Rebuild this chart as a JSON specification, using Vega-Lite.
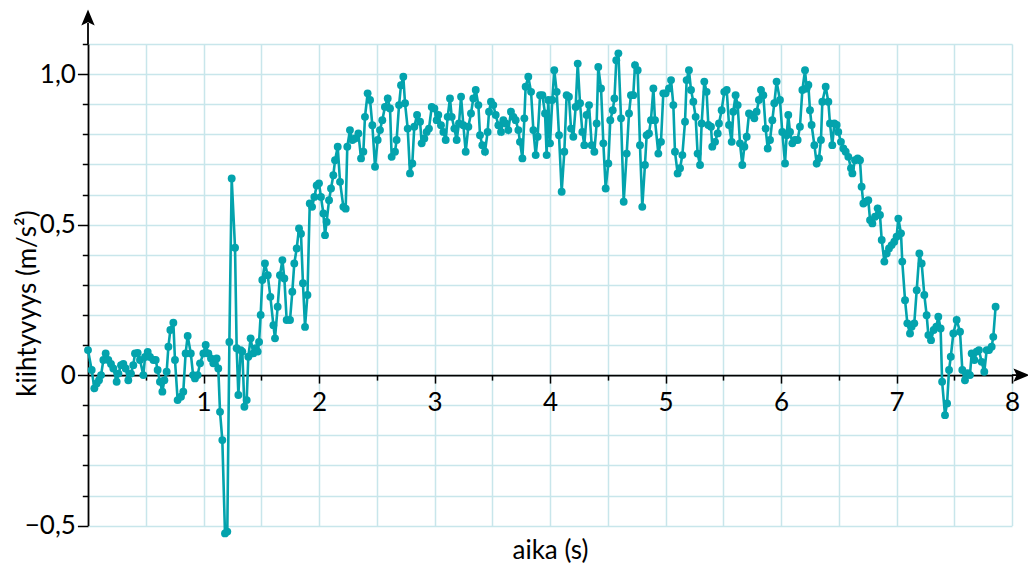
{
 "$schema": "https://vega.github.io/schema/vega-lite/v6.json",
 "width": 924,
 "height": 481.6,
 "autosize": {"type": "none"},
 "padding": {"left": 88, "top": 44, "right": 16, "bottom": 42},
 "background": "white",
 "config": {"view": {"stroke": null}, "font": "Lato"},
 "datasets": {
  "acc": [
   {"t":0.0,"a":0.083},{"t":0.032,"a":0.017},{"t":0.055,"a":-0.044},{"t":0.075,"a":-0.028},{"t":0.095,"a":-0.017},{"t":0.113,"a":0.0},{"t":0.133,"a":0.05},{"t":0.153,"a":0.072},{"t":0.176,"a":0.05},{"t":0.199,"a":0.037},{"t":0.219,"a":0.022},{"t":0.248,"a":-0.022},{"t":0.263,"a":0.005},{"t":0.286,"a":0.033},{"t":0.306,"a":0.037},{"t":0.326,"a":0.022},{"t":0.349,"a":-0.017},{"t":0.372,"a":0.005},{"t":0.392,"a":0.033},{"t":0.407,"a":0.072},{"t":0.43,"a":0.074},{"t":0.45,"a":0.05},{"t":0.479,"a":0.0},{"t":0.494,"a":0.06},{"t":0.517,"a":0.077},{"t":0.537,"a":0.06},{"t":0.566,"a":0.05},{"t":0.586,"a":0.05},{"t":0.603,"a":0.017},{"t":0.623,"a":-0.022},{"t":0.644,"a":-0.055},{"t":0.661,"a":-0.017},{"t":0.681,"a":0.011},{"t":0.696,"a":0.094},{"t":0.713,"a":0.15},{"t":0.739,"a":0.174},{"t":0.753,"a":0.05},{"t":0.776,"a":-0.083},{"t":0.805,"a":-0.072},{"t":0.825,"a":-0.055},{"t":0.845,"a":0.072},{"t":0.863,"a":0.13},{"t":0.89,"a":0.072},{"t":0.91,"a":0.0},{"t":0.926,"a":-0.011},{"t":0.949,"a":0.0},{"t":0.97,"a":0.039},{"t":0.999,"a":0.072},{"t":1.019,"a":0.1},{"t":1.042,"a":0.072},{"t":1.065,"a":0.055},{"t":1.085,"a":0.039},{"t":1.114,"a":0.055},{"t":1.128,"a":0.022},{"t":1.143,"a":-0.122},{"t":1.163,"a":-0.216},{"t":1.186,"a":-0.526},{"t":1.206,"a":-0.52},{"t":1.224,"a":0.11},{"t":1.244,"a":0.653},{"t":1.273,"a":0.423},{"t":1.287,"a":0.089},{"t":1.302,"a":-0.066},{"t":1.322,"a":0.083},{"t":1.336,"a":0.078},{"t":1.354,"a":-0.105},{"t":1.374,"a":-0.083},{"t":1.388,"a":0.061},{"t":1.408,"a":0.122},{"t":1.431,"a":0.072},{"t":1.452,"a":0.089},{"t":1.469,"a":0.078},{"t":1.481,"a":0.11},{"t":1.495,"a":0.2},{"t":1.509,"a":0.316},{"t":1.532,"a":0.371},{"t":1.556,"a":0.332},{"t":1.579,"a":0.26},{"t":1.605,"a":0.166},{"t":1.619,"a":0.122},{"t":1.642,"a":0.227},{"t":1.662,"a":0.332},{"t":1.683,"a":0.382},{"t":1.7,"a":0.321},{"t":1.72,"a":0.183},{"t":1.749,"a":0.183},{"t":1.769,"a":0.277},{"t":1.786,"a":0.371},{"t":1.807,"a":0.421},{"t":1.827,"a":0.487},{"t":1.844,"a":0.47},{"t":1.861,"a":0.305},{"t":1.879,"a":0.16},{"t":1.9,"a":0.266},{"t":1.92,"a":0.57},{"t":1.94,"a":0.559},{"t":1.96,"a":0.592},{"t":1.98,"a":0.63},
   {"t":2.0,"a":0.637},{"t":2.017,"a":0.592},{"t":2.038,"a":0.537},{"t":2.052,"a":0.465},{"t":2.066,"a":0.509},{"t":2.087,"a":0.581},{"t":2.104,"a":0.62},{"t":2.124,"a":0.664},{"t":2.139,"a":0.714},{"t":2.162,"a":0.759},{"t":2.182,"a":0.642},{"t":2.211,"a":0.559},{"t":2.231,"a":0.553},{"t":2.245,"a":0.759},{"t":2.268,"a":0.814},{"t":2.289,"a":0.781},{"t":2.312,"a":0.786},{"t":2.341,"a":0.803},{"t":2.364,"a":0.72},{"t":2.384,"a":0.742},{"t":2.398,"a":0.858},{"t":2.421,"a":0.936},{"t":2.442,"a":0.914},{"t":2.462,"a":0.83},{"t":2.485,"a":0.692},{"t":2.508,"a":0.781},{"t":2.528,"a":0.814},{"t":2.548,"a":0.847},{"t":2.571,"a":0.891},{"t":2.595,"a":0.919},{"t":2.615,"a":0.886},{"t":2.629,"a":0.725},{"t":2.658,"a":0.742},{"t":2.672,"a":0.781},{"t":2.693,"a":0.897},{"t":2.71,"a":0.963},{"t":2.73,"a":0.991},{"t":2.745,"a":0.903},{"t":2.768,"a":0.819},{"t":2.788,"a":0.67},{"t":2.808,"a":0.703},{"t":2.825,"a":0.825},{"t":2.849,"a":0.864},{"t":2.875,"a":0.842},{"t":2.889,"a":0.77},{"t":2.912,"a":0.786},{"t":2.932,"a":0.808},{"t":2.952,"a":0.819},{"t":2.976,"a":0.891},{"t":2.999,"a":0.886},{"t":3.019,"a":0.847},{"t":3.033,"a":0.864},{"t":3.056,"a":0.83},{"t":3.077,"a":0.808},{"t":3.097,"a":0.781},{"t":3.114,"a":0.858},{"t":3.134,"a":0.919},{"t":3.149,"a":0.858},{"t":3.172,"a":0.819},{"t":3.192,"a":0.781},{"t":3.212,"a":0.836},{"t":3.23,"a":0.925},{"t":3.25,"a":0.83},{"t":3.27,"a":0.742},{"t":3.293,"a":0.825},{"t":3.316,"a":0.869},{"t":3.336,"a":0.919},{"t":3.357,"a":0.947},{"t":3.38,"a":0.897},{"t":3.394,"a":0.797},{"t":3.414,"a":0.764},{"t":3.437,"a":0.742},{"t":3.46,"a":0.808},{"t":3.472,"a":0.875},{"t":3.489,"a":0.908},{"t":3.509,"a":0.897},{"t":3.53,"a":0.864},{"t":3.553,"a":0.83},{"t":3.576,"a":0.808},{"t":3.596,"a":0.847},{"t":3.616,"a":0.836},{"t":3.639,"a":0.814},{"t":3.662,"a":0.875},{"t":3.683,"a":0.858},{"t":3.703,"a":0.847},{"t":3.726,"a":0.814},{"t":3.74,"a":0.775},{"t":3.761,"a":0.72},{"t":3.778,"a":0.853},{"t":3.789,"a":0.958},{"t":3.812,"a":0.991},{"t":3.836,"a":0.941},{"t":3.856,"a":0.814},{"t":3.876,"a":0.731},{"t":3.893,"a":0.792},{"t":3.914,"a":0.93},{"t":3.934,"a":0.93},{"t":3.957,"a":0.869},{"t":3.971,"a":0.731},{"t":3.985,"a":0.914},
   {"t":4.0,"a":0.77},{"t":4.02,"a":0.914},{"t":4.037,"a":1.013},{"t":4.058,"a":0.941},{"t":4.078,"a":0.797},{"t":4.101,"a":0.609},{"t":4.124,"a":0.742},{"t":4.144,"a":0.93},{"t":4.164,"a":0.925},{"t":4.182,"a":0.819},{"t":4.202,"a":0.792},{"t":4.222,"a":0.891},{"t":4.24,"a":1.035},{"t":4.26,"a":0.903},{"t":4.28,"a":0.808},{"t":4.297,"a":0.764},{"t":4.317,"a":0.864},{"t":4.338,"a":0.897},{"t":4.361,"a":0.764},{"t":4.384,"a":0.742},{"t":4.404,"a":0.836},{"t":4.418,"a":1.024},{"t":4.442,"a":0.952},{"t":4.462,"a":0.77},{"t":4.482,"a":0.62},{"t":4.505,"a":0.703},{"t":4.522,"a":0.847},{"t":4.543,"a":0.88},{"t":4.558,"a":0.919},{"t":4.574,"a":1.046},{"t":4.592,"a":1.069},{"t":4.615,"a":0.853},{"t":4.638,"a":0.576},{"t":4.664,"a":0.736},{"t":4.684,"a":0.869},{"t":4.701,"a":0.93},{"t":4.721,"a":0.93},{"t":4.736,"a":1.03},{"t":4.759,"a":1.013},{"t":4.779,"a":0.764},{"t":4.799,"a":0.559},{"t":4.822,"a":0.698},{"t":4.837,"a":0.797},{"t":4.857,"a":0.803},{"t":4.874,"a":0.847},{"t":4.895,"a":0.952},{"t":4.909,"a":0.847},{"t":4.938,"a":0.736},{"t":4.961,"a":0.775},{"t":4.981,"a":0.936},{"t":5.001,"a":0.936},{"t":5.03,"a":0.952},{"t":5.048,"a":0.98},{"t":5.068,"a":0.897},{"t":5.082,"a":0.742},{"t":5.105,"a":0.67},{"t":5.126,"a":0.687},{"t":5.146,"a":0.731},{"t":5.169,"a":0.842},{"t":5.183,"a":0.98},{"t":5.203,"a":1.013},{"t":5.221,"a":0.947},{"t":5.241,"a":0.908},{"t":5.261,"a":0.858},{"t":5.278,"a":0.736},{"t":5.299,"a":0.698},{"t":5.313,"a":0.836},{"t":5.336,"a":0.975},{"t":5.356,"a":0.941},{"t":5.371,"a":0.831},{"t":5.394,"a":0.825},{"t":5.405,"a":0.759},{"t":5.429,"a":0.775},{"t":5.452,"a":0.803},{"t":5.463,"a":0.836},{"t":5.486,"a":0.88},{"t":5.509,"a":0.941},{"t":5.53,"a":0.947},{"t":5.55,"a":0.831},{"t":5.573,"a":0.775},{"t":5.587,"a":0.875},{"t":5.607,"a":0.93},{"t":5.625,"a":0.897},{"t":5.645,"a":0.77},{"t":5.665,"a":0.698},{"t":5.683,"a":0.759},{"t":5.703,"a":0.792},{"t":5.723,"a":0.869},{"t":5.746,"a":0.864},{"t":5.769,"a":0.853},{"t":5.789,"a":0.875},{"t":5.809,"a":0.914},{"t":5.827,"a":0.947},{"t":5.847,"a":0.93},{"t":5.867,"a":0.819},{"t":5.885,"a":0.753},{"t":5.905,"a":0.781},{"t":5.925,"a":0.847},{"t":5.942,"a":0.903},{"t":5.962,"a":0.975},
   {"t":5.991,"a":0.914},{"t":6.011,"a":0.808},{"t":6.035,"a":0.703},{"t":6.049,"a":0.797},{"t":6.063,"a":0.864},{"t":6.078,"a":0.808},{"t":6.098,"a":0.77},{"t":6.121,"a":0.781},{"t":6.144,"a":0.781},{"t":6.164,"a":0.825},{"t":6.185,"a":0.947},{"t":6.208,"a":1.013},{"t":6.222,"a":0.952},{"t":6.237,"a":0.964},{"t":6.251,"a":0.88},{"t":6.265,"a":0.831},{"t":6.289,"a":0.764},{"t":6.309,"a":0.703},{"t":6.329,"a":0.72},{"t":6.346,"a":0.781},{"t":6.358,"a":0.908},{"t":6.387,"a":0.958},{"t":6.41,"a":0.908},{"t":6.424,"a":0.836},{"t":6.444,"a":0.764},{"t":6.462,"a":0.836},{"t":6.482,"a":0.831},{"t":6.496,"a":0.808},{"t":6.519,"a":0.775},{"t":6.54,"a":0.753},{"t":6.56,"a":0.742},{"t":6.583,"a":0.725},{"t":6.606,"a":0.687},{"t":6.618,"a":0.67},{"t":6.641,"a":0.714},{"t":6.664,"a":0.72},{"t":6.684,"a":0.714},{"t":6.698,"a":0.626},{"t":6.713,"a":0.57},{"t":6.733,"a":0.576},{"t":6.756,"a":0.581},{"t":6.771,"a":0.515},{"t":6.791,"a":0.504},{"t":6.814,"a":0.526},{"t":6.837,"a":0.554},{"t":6.857,"a":0.532},{"t":6.872,"a":0.449},{"t":6.895,"a":0.377},{"t":6.915,"a":0.404},{"t":6.935,"a":0.421},{"t":6.958,"a":0.432},{"t":6.981,"a":0.443},{"t":7.001,"a":0.46},{"t":7.016,"a":0.52},{"t":7.039,"a":0.471},{"t":7.05,"a":0.377},{"t":7.074,"a":0.249},{"t":7.094,"a":0.172},{"t":7.117,"a":0.138},{"t":7.131,"a":0.161},{"t":7.154,"a":0.172},{"t":7.175,"a":0.282},{"t":7.198,"a":0.404},{"t":7.218,"a":0.371},{"t":7.241,"a":0.266},{"t":7.261,"a":0.199},{"t":7.276,"a":0.133},{"t":7.299,"a":0.116},{"t":7.322,"a":0.15},{"t":7.345,"a":0.161},{"t":7.362,"a":0.194},{"t":7.382,"a":0.155},{"t":7.395,"a":-0.022},{"t":7.42,"a":-0.133},{"t":7.438,"a":-0.094},{"t":7.455,"a":0.017},{"t":7.47,"a":0.061},{"t":7.492,"a":0.138},{"t":7.521,"a":0.183},{"t":7.55,"a":0.144},{"t":7.57,"a":0.017},{"t":7.593,"a":-0.017},{"t":7.616,"a":0.006},{"t":7.636,"a":0.0},{"t":7.651,"a":0.072},{"t":7.674,"a":0.05},{"t":7.694,"a":0.078},{"t":7.714,"a":0.083},{"t":7.737,"a":0.044},{"t":7.76,"a":0.011},{"t":7.781,"a":0.083},{"t":7.801,"a":0.083},{"t":7.824,"a":0.094},{"t":7.838,"a":0.127},{"t":7.858,"a":0.227}
  ]
 },
 "layer": [
  {
   "data": {"name": "acc"},
   "mark": {"type": "line", "color": "#03a3ad", "strokeWidth": 2.6, "point": {"filled": true, "size": 62, "color": "#03a3ad", "opacity": 1}},
   "encoding": {
    "x": {"field": "t", "type": "quantitative",
     "scale": {"domain": [0, 8], "nice": false, "zero": false},
     "axis": {
      "values": [0.5,1,1.5,2,2.5,3,3.5,4,4.5,5,5.5,6,6.5,7,7.5,8],
      "tickCount": 40,
      "offset": -150.5,
      "title": "aika (s)", "titleFont": "Lato", "titleFontSize": 26, "titleFontWeight": "normal", "titleColor": "black",
      "titleY": 175, "titleBaseline": "middle",
      "labelExpr": "datum.value % 1 == 0 ? format(datum.value, 'd') : ''",
      "labelFont": "Lato", "labelFontSize": 26, "labelColor": "black", "labelPadding": 6,
      "labelFlush": false, "labelOverlap": false, "labelBound": false,
      "tickSize": {"condition": {"test": "datum.value % 1 == 0", "value": 8}, "value": 5},
      "tickColor": "black", "tickWidth": 1.5,
      "domainColor": "black", "domainWidth": 1.8,
      "grid": true, "gridColor": "#c8e6eb", "gridWidth": 1.5
     }
    },
    "y": {"field": "a", "type": "quantitative",
     "scale": {"domain": [-0.5, 1.1], "nice": false, "zero": false},
     "axis": {
      "values": [-0.5,-0.4,-0.3,-0.2,-0.1,0,0.1,0.2,0.3,0.4,0.5,0.6,0.7,0.8,0.9,1,1.1],
      "tickCount": 40,
      "title": "kiihtyvyys (m/s²)", "titleFont": "Lato", "titleFontSize": 26, "titleFontWeight": "normal", "titleColor": "black",
      "titleX": -61, "titleY": 259, "titleBaseline": "middle",
      "labelExpr": "abs(datum.value - 1) < 0.001 ? '1,0' : abs(datum.value - 0.5) < 0.001 ? '0,5' : abs(datum.value) < 0.001 ? '0' : abs(datum.value + 0.5) < 0.001 ? '−0,5' : ''",
      "labelFont": "Lato", "labelFontSize": 26, "labelColor": "black", "labelPadding": 2,
      "labelOverlap": false, "labelBound": false, "labelFlush": false,
      "tickSize": {"condition": {"test": "abs(datum.value * 2 - round(datum.value * 2)) < 0.01", "value": 10.6}, "value": 5.7},
      "tickColor": "black", "tickWidth": 1.5,
      "domainColor": "black", "domainWidth": 1.8,
      "grid": true, "gridColor": "#c8e6eb", "gridWidth": 1.5
     }
    }
   }
  },
  {
   "data": {"values": [{"t": 0, "a": 1.1, "a2": 1.17}]},
   "mark": {"type": "rule", "color": "black", "strokeWidth": 1.8},
   "encoding": {
    "x": {"field": "t", "type": "quantitative"},
    "y": {"field": "a", "type": "quantitative"},
    "y2": {"field": "a2"}
   }
  },
  {
   "data": {"values": [{"t": 8, "t2": 8.05, "a": 0}]},
   "mark": {"type": "rule", "color": "black", "strokeWidth": 1.8},
   "encoding": {
    "x": {"field": "t", "type": "quantitative"},
    "x2": {"field": "t2"},
    "y": {"field": "a", "type": "quantitative"}
   }
  },
  {
   "data": {"values": [{"t": 0, "a": 1.188}]},
   "mark": {"type": "point", "shape": "M0,-1L0.83,1L0,0.6L-0.83,1Z", "filled": true, "color": "black", "size": 260, "opacity": 1},
   "encoding": {
    "x": {"field": "t", "type": "quantitative"},
    "y": {"field": "a", "type": "quantitative"}
   }
  },
  {
   "data": {"values": [{"t": 8.082, "a": 0}]},
   "mark": {"type": "point", "shape": "M1,0L-1,0.83L-0.6,0L-1,-0.83Z", "filled": true, "color": "black", "size": 260, "opacity": 1},
   "encoding": {
    "x": {"field": "t", "type": "quantitative"},
    "y": {"field": "a", "type": "quantitative"}
   }
  }
 ]
}
